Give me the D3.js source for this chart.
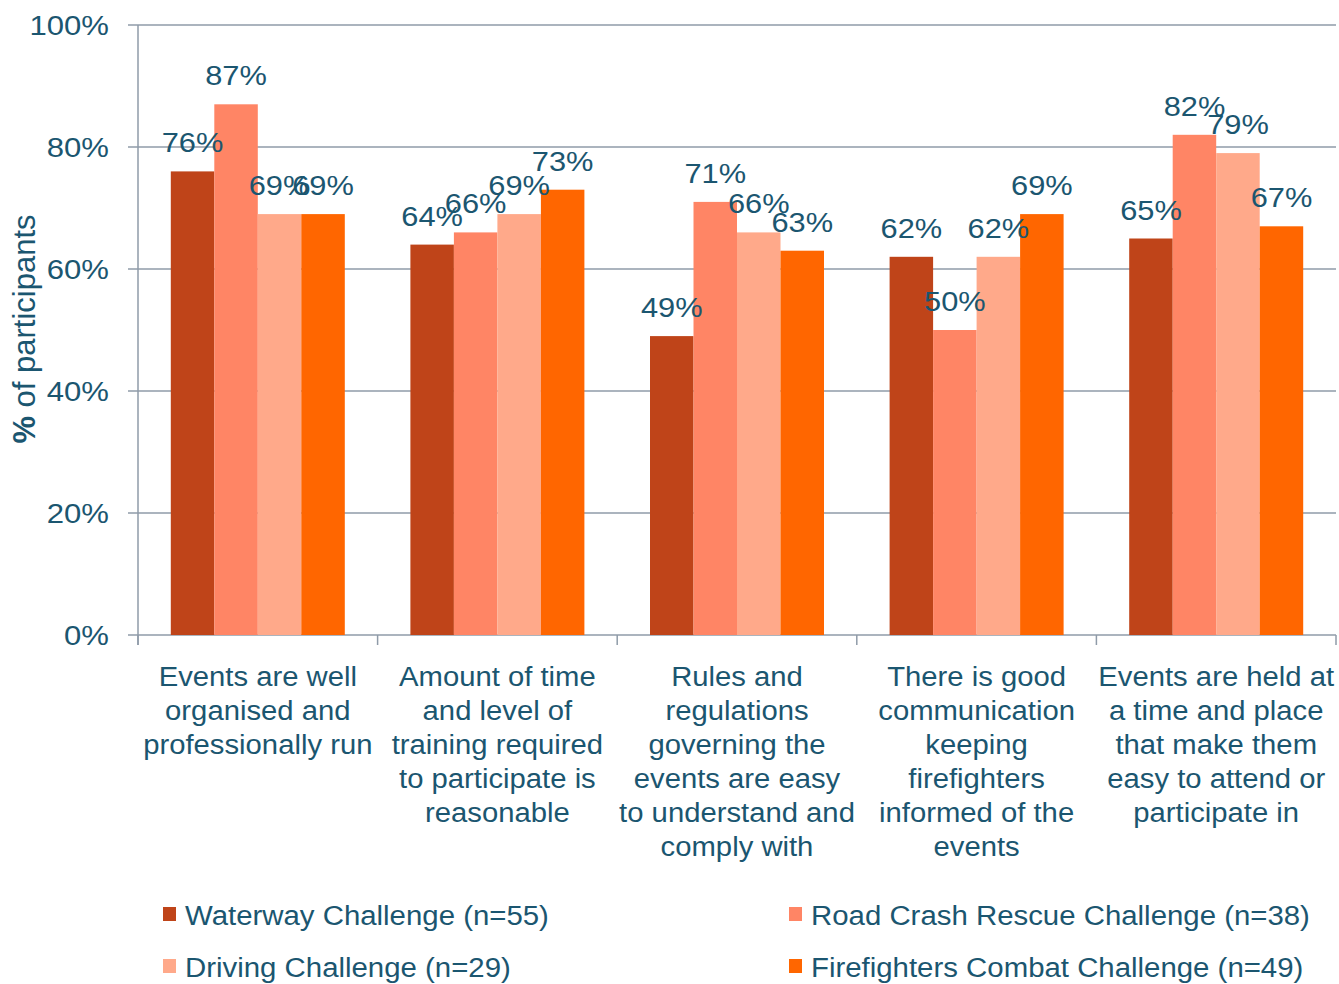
<!DOCTYPE html>
<html><head><meta charset="utf-8">
<script src="https://cdn.jsdelivr.net/npm/d3@7"></script>
<style>body{margin:0;background:#fff}svg{display:block}text{font-family:"Liberation Sans",Arial,sans-serif}</style>
</head><body><svg id="c" width="1339" height="984"></svg>
<script>
const categories = [
  ["Events are well","organised and","professionally run"],
  ["Amount of time","and level of","training required","to participate is","reasonable"],
  ["Rules and","regulations","governing the","events are easy","to understand and","comply with"],
  ["There is good","communication","keeping","firefighters","informed of the","events"],
  ["Events are held at","a time and place","that make them","easy to attend or","participate in"]
];
const seriesNames = ["Waterway Challenge (n=55)","Road Crash Rescue Challenge (n=38)","Driving Challenge (n=29)","Firefighters Combat Challenge (n=49)"];
const waterway = [76,64,49,62,65];
const roadCrash = [87,66,71,50,82];
const driving = [69,69,66,62,79];
const combat = [69,73,63,69,67];
const yTicks = [0,20,40,60,80,100];
const colors = ["#BF4419","#FF8565","#FFA98A","#FF6600"];
const textColor = "#1B5670";

const series = [waterway, roadCrash, driving, combat];
const svg = d3.select("#c");
const m = {l:138, r:1336, t:25, b:635};
const x0 = d3.scaleBand().domain(d3.range(categories.length)).range([m.l, m.r]).paddingInner(0).paddingOuter(0);
const inner = 174/239.6;
const x1 = d3.scaleBand().domain(d3.range(series.length)).range([(x0.bandwidth()*(1-inner))/2, x0.bandwidth()*(1+inner)/2]);
const y = d3.scaleLinear().domain([0,100]).range([m.b, m.t]);

// gridlines
svg.append("g").selectAll("line").data(yTicks).join("line")
  .attr("x1", m.l-10).attr("x2", m.r).attr("y1", d=>y(d)).attr("y2", d=>y(d))
  .attr("stroke","#8F9BA8").attr("stroke-width",1.5);
svg.append("line").attr("x1",m.l).attr("x2",m.l).attr("y1",m.t).attr("y2",m.b+10).attr("stroke","#8F9BA8").attr("stroke-width",1.5);
svg.append("g").selectAll("line").data(d3.range(categories.length+1)).join("line")
  .attr("x1", d=> d<categories.length ? x0(d) : m.r).attr("x2", d=> d<categories.length ? x0(d) : m.r)
  .attr("y1", m.b).attr("y2", m.b+10).attr("stroke","#8F9BA8").attr("stroke-width",1.5);
// y tick labels
svg.append("g").selectAll("text").data(yTicks).join("text")
  .attr("transform",d=>`translate(109,${y(d)+10}) scale(1.11,1)`).attr("text-anchor","end")
  .attr("font-size",28).attr("fill",textColor).text(d=>d+"%");
// y axis title
svg.append("text").attr("transform","translate(35,329) rotate(-90)").attr("text-anchor","middle")
  .attr("font-size",31).attr("fill",textColor)
  .html('<tspan font-weight="bold">%</tspan> of participants');

// bars
const groups = svg.append("g").selectAll("g").data(categories).join("g")
  .attr("transform",(d,i)=>`translate(${x0(i)},0)`);
groups.selectAll("rect").data((d,i)=>series.map((s,j)=>({j,v:s[i]}))).join("rect")
  .attr("x",d=>x1(d.j)).attr("width",x1.bandwidth())
  .attr("y",d=>y(d.v)).attr("height",d=>y(0)-y(d.v))
  .attr("fill",d=>colors[d.j]);
groups.selectAll("text.v").data((d,i)=>series.map((s,j)=>({j,v:s[i]}))).join("text")
  .attr("class","v")
  .attr("transform",d=>`translate(${x1(d.j)+x1.bandwidth()/2},${y(d.v)-19}) scale(1.1,1)`)
  .attr("text-anchor","middle").attr("font-size",28).attr("fill",textColor).text(d=>d.v+"%");

// category labels
svg.append("g").selectAll("text").data(categories).join("text")
  .attr("transform",(d,i)=>`translate(${x0(i)+x0.bandwidth()/2},686) scale(1.045,1)`)
  .attr("text-anchor","middle").attr("font-size",28).attr("fill",textColor)
  .each(function(d){
    d3.select(this).selectAll("tspan").data(d).join("tspan")
      .attr("x",0).attr("dy",(t,k)=>k===0?0:34).text(t=>t);
  });

// legend
const legPos = [[163,925],[789,925],[163,977],[789,977]];
const leg = svg.append("g").selectAll("g").data(seriesNames).join("g")
  .attr("transform",(d,i)=>`translate(${legPos[i][0]},${legPos[i][1]})`);
leg.append("rect").attr("x",0).attr("y",-18).attr("width",13).attr("height",14).attr("fill",(d,i)=>colors[i]);
leg.append("text").attr("transform","translate(22,0) scale(1.05,1)").attr("font-size",28).attr("fill",textColor).text(d=>d);
</script></body></html>
